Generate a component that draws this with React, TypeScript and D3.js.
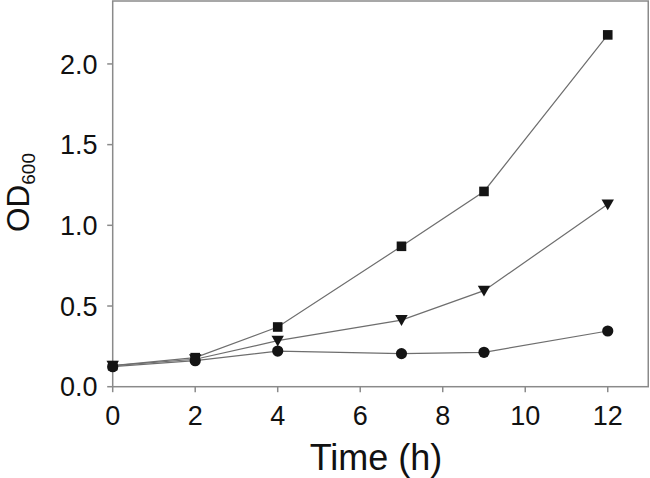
import React from "react";
import * as d3 from "d3";

const times = [0, 2, 4, 7, 9, 12];
const squareSeries = [0.13, 0.18, 0.37, 0.87, 1.21, 2.18];
const triangleSeries = [0.13, 0.17, 0.285, 0.413, 0.595, 1.13];
const circleSeries = [0.124, 0.161, 0.221, 0.205, 0.213, 0.345];
const xTicks = [0, 2, 4, 6, 8, 10, 12];
const yTicks = [0, 0.5, 1.0, 1.5, 2.0];

const W = 650;
const H = 478;
const FONT = "'Liberation Sans', Arial, Helvetica, sans-serif";

export default function App() {
  const x = d3.scaleLinear().domain([0, 13]).range([112.7, 649]);
  const y = d3.scaleLinear().domain([0, 2.39]).range([386.7, 1]);
  const line = d3
    .line<number>()
    .x((_, i) => x(times[i]))
    .y((d) => y(d));
  const axisColor = "#8a8a8a";
  const lineColor = "#6e6e6e";
  const markFill = "#141414";

  const series = [
    { vals: circleSeries, shape: "circle" },
    { vals: triangleSeries, shape: "triangle" },
    { vals: squareSeries, shape: "square" },
  ];

  const marker = (shape: string, cx: number, cy: number, key: string) => {
    if (shape === "circle") return <circle key={key} cx={cx} cy={cy} r={5.6} fill={markFill} />;
    if (shape === "square")
      return <rect key={key} x={cx - 4.8} y={cy - 4.8} width={9.6} height={9.6} fill={markFill} />;
    const s = 6.2;
    return (
      <path
        key={key}
        d={`M${cx - s},${cy - s * 0.8} L${cx + s},${cy - s * 0.8} L${cx},${cy + s * 0.95} Z`}
        fill={markFill}
      />
    );
  };

  const x0 = x(0);
  const x1 = x(13);
  const y0 = y(0);
  const yTop = y(2.39);

  return (
    <svg width={W} height={H} style={{ position: "absolute", left: 0, top: 0, background: "#fff" }}>
      <rect x={0} y={0} width={W} height={H} fill="#fff" />
      {/* frame */}
      <rect x={x0} y={yTop} width={x1 - x0 - 0.75} height={y0 - yTop} fill="none" stroke={axisColor} strokeWidth={1.5} />
      {/* y ticks */}
      {yTicks.map((t) => (
        <g key={"y" + t}>
          <line x1={x0 - 5.5} x2={x0} y1={y(t)} y2={y(t)} stroke={axisColor} strokeWidth={1.5} />
          <text
            x={97.5}
            y={y(t)}
            dy="0.36em"
            textAnchor="end"
            fontFamily={FONT}
            fontSize={27}
            fill="#111"
          >
            {t.toFixed(1)}
          </text>
        </g>
      ))}
      {/* x ticks */}
      {xTicks.map((t) => (
        <g key={"x" + t}>
          <line x1={x(t)} x2={x(t)} y1={y0} y2={y0 + 5.5} stroke={axisColor} strokeWidth={1.5} />
          <text x={x(t)} y={425} textAnchor="middle" fontFamily={FONT} fontSize={27} fill="#111">
            {t}
          </text>
        </g>
      ))}
      {/* lines */}
      {series.map((s) => (
        <path key={"l" + s.shape} d={line(s.vals) || ""} fill="none" stroke={lineColor} strokeWidth={1.2} />
      ))}
      {/* markers */}
      {series.map((s) => s.vals.map((v, i) => marker(s.shape, x(times[i]), y(v), s.shape + i)))}
      {/* axis titles */}
      <text x={376} y={470} textAnchor="middle" fontFamily={FONT} fontSize={36} fill="#111">
        Time (h)
      </text>
      <text
        transform="translate(28.5,232) rotate(-90)"
        fontFamily={FONT}
        fontSize={31.5}
        fill="#111"
      >
        OD
        <tspan fontSize={19} dy={6.5}>
          600
        </tspan>
      </text>
    </svg>
  );
}
